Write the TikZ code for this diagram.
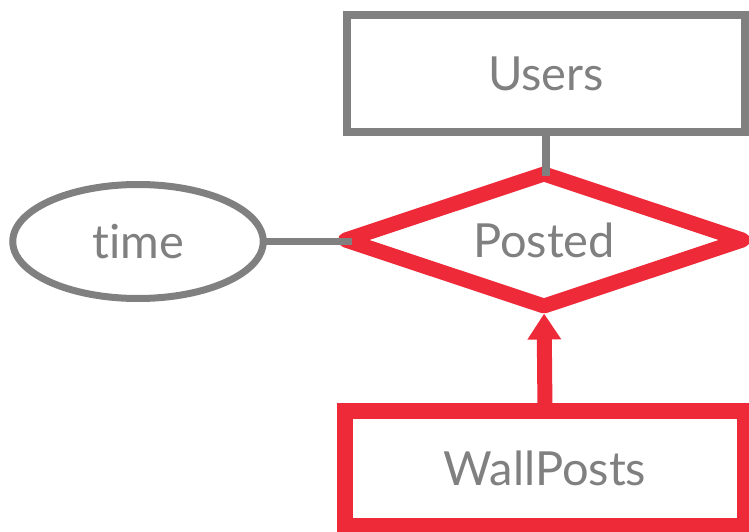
\documentclass[tikz,border=0pt]{standalone}
\usepackage{fontspec}
\setmainfont[Ligatures=NoCommon]{Lato}
\usetikzlibrary{shapes.geometric,arrows.meta}
\definecolor{ergray}{RGB}{128,128,128}
\definecolor{erred}{RGB}{238,42,57}
\tikzset{
  lbl/.style={text=ergray,font=\fontsize{47}{52}\selectfont,inner sep=0pt,outer sep=0pt},
  entity/.style={lbl,draw=ergray,line width=8pt,rectangle},
  weakentity/.style={lbl,draw=erred,line width=16pt,rectangle},
  relation/.style={lbl,draw=erred,line width=15pt,diamond,line join=round,aspect=3},
  attrib/.style={lbl,draw=ergray,line width=7pt,ellipse},
  link/.style={draw=ergray,line width=7.5pt},
  idlink/.style={draw=erred,line width=15pt,-{Triangle[width=32pt,length=26pt]}}
}
\begin{document}
\begin{tikzpicture}[x=1pt,y=-1pt]
\useasboundingbox (0,0) rectangle (749,532);
\node[entity,minimum width=398pt,minimum height=117pt] (users) at (546,73.5) {Users};
\node[relation,minimum width=397pt,minimum height=132pt] (posted) at (544,240) {Posted};
\node[attrib,minimum width=250.5pt,minimum height=114pt] (time) at (138,241.5) {time};
\node[weakentity,minimum width=400pt,minimum height=115pt] (wall) at (545,468.5) {WallPosts};
\draw[link,shorten >=-1.5pt] (users.south) -- (users.south |- posted.north);
\draw[link,shorten >=-6pt] (time.east) -- (time.east -| posted.west);
\draw[idlink,shorten >=7.5pt] (wall.north) -- (posted.south);
\end{tikzpicture}
\end{document}
